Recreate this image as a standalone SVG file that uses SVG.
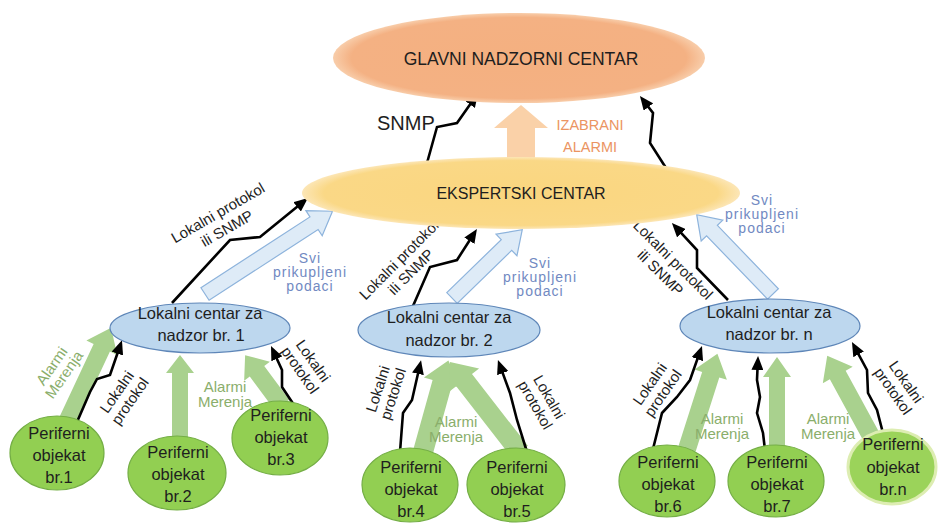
<svg xmlns="http://www.w3.org/2000/svg" width="938" height="523" viewBox="0 0 938 523">
<defs>
<radialGradient id="gOrange" cx="50%" cy="50%" r="50%">
<stop offset="0%" stop-color="#F4B080"/><stop offset="90%" stop-color="#F4B183"/><stop offset="100%" stop-color="#F8CDAA"/>
</radialGradient>
<radialGradient id="gGold" cx="50%" cy="50%" r="50%">
<stop offset="0%" stop-color="#FAD67F"/><stop offset="90%" stop-color="#FAD886"/><stop offset="100%" stop-color="#FCE6B6"/>
</radialGradient>
<marker id="ah" markerUnits="userSpaceOnUse" markerWidth="14" markerHeight="12" viewBox="0 0 14 12" refX="8" refY="6" orient="auto">
<path d="M0,0 L14,6 L0,12 z" fill="#000"/>
</marker>
<style>
text{font-family:"Liberation Sans",Arial,sans-serif;fill:#1E1E1E}
.lc{fill:#BDD7EE;stroke:#5E86B8;stroke-width:1.2}
.po{fill:#92CF52;stroke:#74AE45;stroke-width:1.2}
.wire{fill:none;stroke:#000;stroke-width:2.6;stroke-linejoin:miter;marker-end:url(#ah)}
.blue{fill:#DEEBF7;stroke:#8DB3DC;stroke-width:1.2}
.green{fill:#A9D18E}
.lbl{font-size:15px}
.am{font-size:15px;fill:#8AAE6B}
.svi{font-size:14px;fill:#7189C2;letter-spacing:1px}
.nt{font-size:16.5px}
.pt{font-size:16.5px}
</style>
</defs>

<g id="connectors">
<polygon transform="translate(521,162) rotate(-90)" points="0,-14 34,-14 34,-27 57,0 34,27 34,14 0,14" fill="#F9CC9E" opacity="0.9"/>
<polygon class="blue" transform="translate(205,294) rotate(-33)" points="0,-7.5 130,-7.5 130,-15 152,0 130,15 130,7.5 0,7.5"/>
<polygon class="blue" transform="translate(452,298) rotate(-44.2)" points="0,-7.5 76,-7.5 76,-15 98,0 76,15 76,7.5 0,7.5"/>
<polygon class="blue" transform="translate(773,294) rotate(-133.9)" points="0,-7.5 88,-7.5 88,-15 110,0 88,15 88,7.5 0,7.5"/>
<polygon class="green" transform="translate(67,422) rotate(-64.9)" points="0,-9 82,-9 82,-17 104,0 82,17 82,9 0,9"/>
<polygon class="green" transform="translate(180,440) rotate(-90)" points="0,-8 67,-8 67,-14 85,0 67,14 67,8 0,8"/>
<polygon class="green" transform="translate(282,405) rotate(-126.5)" points="0,-9 42,-9 42,-16 62,0 42,16 42,9 0,9"/>
<polygon class="green" transform="translate(423,452) rotate(-74.5)" points="0,-10 72,-10 72,-19 95,0 72,19 72,10 0,10"/>
<polygon class="green" transform="translate(520,452) rotate(-127.9)" points="0,-10 91,-10 91,-19 114,0 91,19 91,10 0,10"/>
<polygon class="green" transform="translate(687,449) rotate(-72.3)" points="0,-9 78,-9 78,-17 100,0 78,17 78,9 0,9"/>
<polygon class="green" transform="translate(777,449) rotate(-90)" points="0,-8 72,-8 72,-14 92,0 72,14 72,8 0,8"/>
<polygon class="green" transform="translate(877,447) rotate(-118.6)" points="0,-9 82,-9 82,-17 104,0 82,17 82,9 0,9"/>

<polyline class="wire" points="427,163 437,127 457,123 474.6,98"/>
<polyline class="wire" points="666,168 650,143 653,113 643.6,100.7"/>
<polyline class="wire" points="172,303 230,240 260,237 303.3,201.8"/>
<polyline class="wire" points="413,306 430,267 457,260 473.7,234"/>
<polyline class="wire" points="728,300 697,268 697,250 676,227.4"/>
<polyline class="wire" points="77,422 90,392 97,379 110,375 120,346"/>
<polyline class="wire" points="294,405 282,387 282,370 273.5,351.5"/>
<polyline class="wire" points="400,452 403,413 412,400 419.7,366"/>
<polyline class="wire" points="527,452 517,420 510,393 500,365.6"/>
<polyline class="wire" points="653,449 662,413 677,397 690,380 700,351.6"/>
<polyline class="wire" points="765,450 763,433 757,413 760,397 757,380 757.8,362"/>
<polyline class="wire" points="884,437 877,410 868,393 867,370 854.8,347.3"/>
</g>

<g id="labels">
<text x="377" y="130" font-size="20">SNMP</text>
<text x="590" y="130" font-size="14.5" text-anchor="middle" style="fill:#EB9462">IZABRANI</text>
<text x="590" y="152" font-size="14.5" text-anchor="middle" style="fill:#EB9462">ALARMI</text>

<text class="lbl" text-anchor="middle" transform="translate(218,213) rotate(-30)"><tspan x="0" y="5">Lokalni protokol</tspan><tspan x="0" y="23">ili SNMP</tspan></text>
<text class="lbl" text-anchor="middle" transform="translate(399,260) rotate(-45)"><tspan x="0" y="5">Lokalni protokol</tspan><tspan x="0" y="22">ili SNMP</tspan></text>
<text class="lbl" text-anchor="middle" transform="translate(673,260) rotate(45)"><tspan x="0" y="5">Lokalni protokol</tspan><tspan x="0" y="23">ili SNMP</tspan></text>

<text class="svi" text-anchor="middle"><tspan x="310" y="263">Svi</tspan><tspan x="310" y="277">prikupljeni</tspan><tspan x="310" y="291">podaci</tspan></text>
<text class="svi" text-anchor="middle"><tspan x="540" y="268">Svi</tspan><tspan x="540" y="282">prikupljeni</tspan><tspan x="540" y="296">podaci</tspan></text>
<text class="svi" text-anchor="middle"><tspan x="762" y="205">Svi</tspan><tspan x="762" y="219">prikupljeni</tspan><tspan x="762" y="233">podaci</tspan></text>

<text class="am" text-anchor="middle" transform="translate(56,369) rotate(-55)"><tspan x="0" y="0">Alarmi</tspan><tspan x="0" y="15">Merenja</tspan></text>
<text class="am" text-anchor="middle"><tspan x="225" y="392">Alarmi</tspan><tspan x="225" y="407">Merenja</tspan></text>
<text class="am" text-anchor="middle"><tspan x="456" y="427">Alarmi</tspan><tspan x="456" y="442">Merenja</tspan></text>
<text class="am" text-anchor="middle"><tspan x="722" y="424">Alarmi</tspan><tspan x="722" y="439">Merenja</tspan></text>
<text class="am" text-anchor="middle"><tspan x="828" y="424">Alarmi</tspan><tspan x="828" y="439">Merenja</tspan></text>

<text class="lbl" text-anchor="middle" transform="translate(117,392) rotate(-55)"><tspan x="0" y="5">Lokalni</tspan><tspan x="0" y="21">protokol</tspan></text>
<text class="lbl" text-anchor="middle" transform="translate(313,361) rotate(55)"><tspan x="0" y="5">Lokalni</tspan><tspan x="0" y="21">protokol</tspan></text>
<text class="lbl" text-anchor="middle" transform="translate(378,389) rotate(-72)"><tspan x="0" y="5">Lokalni</tspan><tspan x="0" y="21">protokol</tspan></text>
<text class="lbl" text-anchor="middle" transform="translate(549,397) rotate(60)"><tspan x="0" y="5">Lokalni</tspan><tspan x="0" y="21">protokol</tspan></text>
<text class="lbl" text-anchor="middle" transform="translate(650,384) rotate(-55)"><tspan x="0" y="5">Lokalni</tspan><tspan x="0" y="21">protokol</tspan></text>
<text class="lbl" text-anchor="middle" transform="translate(906,382) rotate(55)"><tspan x="0" y="5">Lokalni</tspan><tspan x="0" y="21">protokol</tspan></text>
</g>

<g id="glavni">
<ellipse cx="519" cy="58" rx="186" ry="45" fill="url(#gOrange)"/>
<text x="521" y="65" font-size="17.5" text-anchor="middle">GLAVNI NADZORNI CENTAR</text>
</g>
<g id="ekspertski">
<ellipse cx="521" cy="193" rx="219" ry="36" fill="url(#gGold)"/>
<text x="521" y="199" font-size="16" text-anchor="middle">EKSPERTSKI CENTAR</text>
</g>

<g id="lokalni1">
<ellipse class="lc" cx="200" cy="328" rx="90" ry="25"/>
<text class="nt" text-anchor="middle"><tspan x="200" y="319">Lokalni centar za</tspan><tspan x="201" y="341">nadzor br. 1</tspan></text>
</g>
<g id="lokalni2">
<ellipse class="lc" cx="449" cy="330" rx="91" ry="27"/>
<text class="nt" text-anchor="middle"><tspan x="449" y="323">Lokalni centar za</tspan><tspan x="449" y="346">nadzor br. 2</tspan></text>
</g>
<g id="lokalniN">
<ellipse class="lc" cx="770" cy="326" rx="90" ry="27"/>
<text class="nt" text-anchor="middle"><tspan x="769" y="318">Lokalni centar za</tspan><tspan x="769" y="340">nadzor br. n</tspan></text>
</g>

<g id="periferni1">
<ellipse class="po" cx="57" cy="453" rx="47" ry="37"/>
<text class="pt" text-anchor="middle"><tspan x="59" y="439">Periferni</tspan><tspan x="59" y="461">objekat</tspan><tspan x="59" y="483">br.1</tspan></text>
</g>
<g id="periferni2">
<ellipse class="po" cx="177" cy="473" rx="49" ry="37"/>
<text class="pt" text-anchor="middle"><tspan x="178" y="458">Periferni</tspan><tspan x="178" y="480">objekat</tspan><tspan x="178" y="502">br.2</tspan></text>
</g>
<g id="periferni3">
<ellipse class="po" cx="280" cy="438" rx="48" ry="37"/>
<text class="pt" text-anchor="middle"><tspan x="281" y="421">Periferni</tspan><tspan x="281" y="443">objekat</tspan><tspan x="281" y="465">br.3</tspan></text>
</g>
<g id="periferni4">
<ellipse class="po" cx="410" cy="485" rx="48" ry="37"/>
<text class="pt" text-anchor="middle"><tspan x="411" y="473">Periferni</tspan><tspan x="411" y="495">objekat</tspan><tspan x="411" y="517">br.4</tspan></text>
</g>
<g id="periferni5">
<ellipse class="po" cx="516" cy="485" rx="49" ry="37"/>
<text class="pt" text-anchor="middle"><tspan x="517" y="473">Periferni</tspan><tspan x="517" y="495">objekat</tspan><tspan x="517" y="517">br.5</tspan></text>
</g>
<g id="periferni6">
<ellipse class="po" cx="667" cy="481" rx="48" ry="36"/>
<text class="pt" text-anchor="middle"><tspan x="668" y="468">Periferni</tspan><tspan x="668" y="490">objekat</tspan><tspan x="668" y="512">br.6</tspan></text>
</g>
<g id="periferni7">
<ellipse class="po" cx="776" cy="481" rx="48" ry="36"/>
<text class="pt" text-anchor="middle"><tspan x="777" y="468">Periferni</tspan><tspan x="777" y="490">objekat</tspan><tspan x="777" y="512">br.7</tspan></text>
</g>
<g id="peris">
<ellipse cx="892" cy="467" rx="44" ry="37" fill="#9BD35A" stroke="#DDEDB2" stroke-width="3"/>
<text class="pt" text-anchor="middle"><tspan x="893" y="450">Periferni</tspan><tspan x="893" y="473">objekat</tspan><tspan x="893" y="495">br.n</tspan></text>
</g>
</svg>
